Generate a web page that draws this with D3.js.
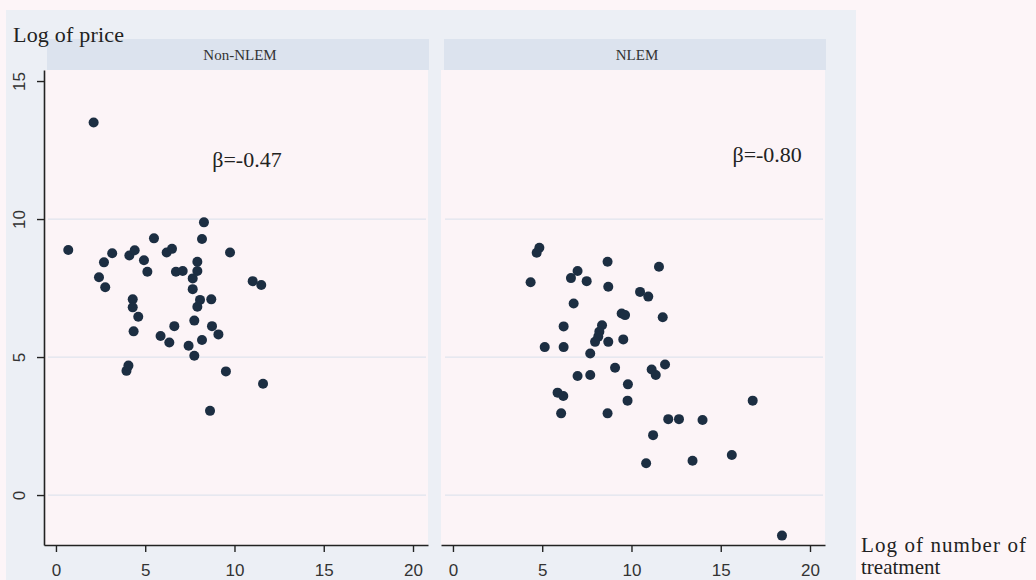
<!DOCTYPE html>
<html>
<head>
<meta charset="utf-8">
<script src="https://cdn.jsdelivr.net/npm/d3@7"></script>
<style>
  body { margin: 0; background: #fdf5f8; }
  svg { display: block; }
</style>
</head>
<body>
<div id="chart"></div>
<script>
// panel titles and slope labels
const panelNames = ['Non-NLEM', 'NLEM'];
const betaLabels = ['\u03b2=-0.47', '\u03b2=-0.80'];

// tick values
const xTicks = [0, 5, 10, 15, 20];
const yTicks = [0, 5, 10, 15];

// Non-NLEM points: log of number of treatment, log of price
const nonNlemLogN = [0.69, 2.11, 5.49, 8.29, 8.18, 3.15, 2.69, 2.41, 2.76, 4.11, 4.41, 4.93, 5.12, 6.2, 6.5,
  6.72, 7.1, 7.92, 7.92, 7.66, 7.66, 9.75, 11.02, 11.5, 4.3, 4.3, 4.61, 4.35, 6.63, 5.86, 6.35, 7.43,
  7.75, 7.75, 8.07, 7.92, 8.7, 8.74, 9.1, 8.18, 3.95, 4.06, 9.52, 11.6, 8.63];
const nonNlemLogPrice = [8.88, 13.5, 9.3, 9.88, 9.28, 8.76, 8.43, 7.89, 7.53, 8.68, 8.87, 8.51, 8.09, 8.79, 8.92,
  8.09, 8.12, 8.45, 8.12, 7.85, 7.46, 8.79, 7.75, 7.61, 7.09, 6.8, 6.46, 5.93, 6.12, 5.76, 5.53, 5.41,
  5.05, 6.32, 7.07, 6.82, 7.09, 6.12, 5.82, 5.62, 4.5, 4.69, 4.48, 4.03, 3.05];

// NLEM points
const nlemLogN = [4.84, 4.69, 4.35, 8.66, 11.54, 6.98, 6.61, 7.49, 8.7, 10.48, 10.94, 6.76, 9.45, 9.64, 11.75,
  6.2, 8.35, 8.2, 8.14, 7.96, 8.7, 9.54, 5.14, 6.2, 7.69, 9.08, 11.13, 11.36, 11.88, 6.98, 7.69, 9.8,
  5.86, 6.18, 9.78, 6.06, 8.66, 12.06, 12.66, 13.98, 11.21, 10.82, 13.42, 15.62, 16.79, 18.43];
const nlemLogPrice = [8.96, 8.78, 7.71, 8.45, 8.27, 8.12, 7.86, 7.75, 7.55, 7.36, 7.19, 6.94, 6.58, 6.52, 6.44,
  6.11, 6.15, 5.92, 5.74, 5.55, 5.55, 5.64, 5.36, 5.36, 5.13, 4.61, 4.55, 4.35, 4.73, 4.31, 4.35, 4.01,
  3.71, 3.59, 3.42, 2.96, 2.96, 2.75, 2.75, 2.72, 2.17, 1.15, 1.24, 1.45, 3.42, -1.47];

const panels = [
  { name: panelNames[0], beta: betaLabels[0], xs: nonNlemLogN, ys: nonNlemLogPrice, left: 44, betaX: 10.7, betaY: 11.9 },
  { name: panelNames[1], beta: betaLabels[1], xs: nlemLogN, ys: nlemLogPrice, left: 441, betaX: 17.6, betaY: 12.05 }
];

// formatting parameters
const width = 1036, height = 580;
const plotTop = 70, plotBottom = 545, plotW = 384;
const serif = '"Liberation Serif", "Times New Roman", serif';
const sans = '"Liberation Sans", Arial, sans-serif';

const svg = d3.select('#chart').append('svg')
  .attr('width', width)
  .attr('height', height);

// outer graph region (grey), lighter margin on the right
svg.append('rect').attr('x', 0).attr('y', 0).attr('width', width).attr('height', height).attr('fill', '#fdf5f8');
svg.append('rect').attr('x', 6).attr('y', 10).attr('width', 850).attr('height', height - 10).attr('fill', '#eceff5');

const y = d3.scaleLinear().domain([-1.81, 15.4]).range([plotBottom, plotTop]);

panels.forEach((p, i) => {
  const x = d3.scaleLinear().domain([-0.67, 20.84]).range([p.left, p.left + plotW]);

  // strip header
  svg.append('rect')
    .attr('x', p.left + 3).attr('y', 39)
    .attr('width', plotW - 2).attr('height', plotTop - 39)
    .attr('fill', '#dce3ee');
  svg.append('text')
    .attr('x', p.left + plotW / 2 + 4).attr('y', 60)
    .attr('text-anchor', 'middle')
    .style('font-family', serif).style('font-size', '15px').attr('fill', '#333')
    .text(p.name);

  // plot region
  svg.append('rect')
    .attr('x', p.left).attr('y', plotTop)
    .attr('width', plotW).attr('height', plotBottom - plotTop)
    .attr('fill', '#fcf4f7');

  // faint gridlines
  svg.append('g').selectAll('line')
    .data(yTicks.slice(0, 3))
    .enter().append('line')
    .attr('x1', p.left + 4).attr('x2', p.left + plotW - 2)
    .attr('y1', d => y(d)).attr('y2', d => y(d))
    .attr('stroke', '#dfe4ee').attr('stroke-width', 1.2);

  // x axis
  const xAxis = d3.axisBottom(x).tickValues(xTicks).tickSize(7).tickSizeOuter(0);
  const gx = svg.append('g')
    .attr('transform', `translate(0,${plotBottom})`)
    .call(xAxis);
  gx.select('.domain').attr('stroke', '#222').attr('stroke-width', 1.6);
  gx.selectAll('.tick line').attr('stroke', '#222').attr('stroke-width', 1.4);
  gx.selectAll('.tick text')
    .attr('dy', 0).attr('y', 31)
    .style('font-family', sans).style('font-size', '17px').attr('fill', '#333');

  // y axis only on first panel
  if (i === 0) {
    const yAxis = d3.axisLeft(y).tickValues(yTicks).tickSize(7).tickSizeOuter(0);
    const gy = svg.append('g')
      .attr('transform', `translate(${p.left},0)`)
      .call(yAxis);
    gy.select('.domain').attr('stroke', '#222').attr('stroke-width', 1.6);
    gy.selectAll('.tick line').attr('stroke', '#222').attr('stroke-width', 1.4);
    gy.selectAll('.tick text')
      .attr('x', null).attr('dy', null)
      .attr('transform', 'translate(-23,0) rotate(-90)')
      .attr('text-anchor', 'middle')
      .attr('dominant-baseline', 'middle')
      .style('font-family', sans).style('font-size', '17px').attr('fill', '#333');
  }

  // points
  svg.append('g').selectAll('circle')
    .data(p.xs.map((d, k) => [d, p.ys[k]]))
    .enter().append('circle')
    .attr('cx', d => x(d[0]))
    .attr('cy', d => y(d[1]))
    .attr('r', 5)
    .attr('fill', '#1c2e42');

  // slope annotation
  svg.append('text')
    .attr('x', x(p.betaX)).attr('y', y(p.betaY))
    .attr('text-anchor', 'middle')
    .style('font-family', serif).style('font-size', '22px').attr('fill', '#222')
    .text(p.beta);
});

// axis titles
svg.append('text')
  .attr('x', 13).attr('y', 42)
  .attr('textLength', 111)
  .style('font-family', serif).style('font-size', '22px').attr('fill', '#222')
  .text('Log of price');

svg.append('text')
  .attr('x', 861).attr('y', 552)
  .attr('textLength', 165)
  .style('font-family', serif).style('font-size', '21px').attr('fill', '#222')
  .text('Log of number of');
svg.append('text')
  .attr('x', 861).attr('y', 574)
  .style('font-family', serif).style('font-size', '21px').attr('fill', '#222')
  .text('treatment');
</script>
</body>
</html>
